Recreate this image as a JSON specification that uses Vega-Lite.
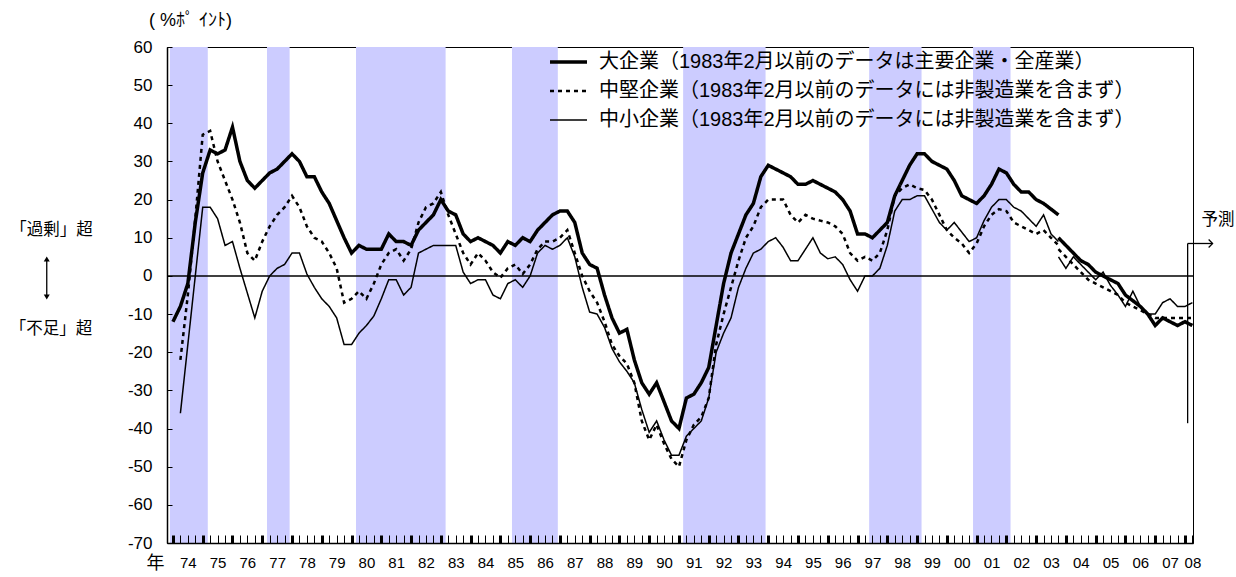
{
  "$schema": "https://vega.github.io/schema/vega-lite/v6.json",
  "width": 1026,
  "height": 496,
  "autosize": {"type": "none"},
  "padding": {"left": 167, "top": 47, "right": 43, "bottom": 34},
  "background": "white",
  "config": {
    "view": {"stroke": "#000000", "strokeWidth": 1},
    "font": "Liberation Sans, Noto Sans CJK JP, sans-serif",
    "axis": {"grid": false, "domainColor": "#000000", "tickColor": "#000000", "labelColor": "#000000", "titleColor": "#000000", "labelFont": "Liberation Sans, Noto Sans CJK JP, sans-serif", "titleFont": "Liberation Sans, Noto Sans CJK JP, sans-serif", "titleFontWeight": "normal"}
  },
  "datasets": {
    "bands": [
      {"t": 1973.9, "t2": 1975.17, "v": 60, "v2": -70},
      {"t": 1977.16, "t2": 1977.92, "v": 60, "v2": -70},
      {"t": 1980.15, "t2": 1983.16, "v": 60, "v2": -70},
      {"t": 1985.39, "t2": 1986.93, "v": 60, "v2": -70},
      {"t": 1991.14, "t2": 1993.91, "v": 60, "v2": -70},
      {"t": 1997.39, "t2": 1999.15, "v": 60, "v2": -70},
      {"t": 2000.88, "t2": 2002.14, "v": 60, "v2": -70}
    ],
    "zero": [
      {"t": 1973.8, "t2": 2008.27, "v": 0}
    ],
    "tankan": [
      {"t":1974,"g":"a","L":-12,"M":null,"S":null},
      {"t":1974.25,"g":"a","L":-8,"M":-22,"S":-36},
      {"t":1974.5,"g":"a","L":-2,"M":-5,"S":-18},
      {"t":1974.75,"g":"a","L":14,"M":15,"S":0},
      {"t":1975,"g":"a","L":27,"M":37,"S":18},
      {"t":1975.25,"g":"a","L":33,"M":38,"S":18},
      {"t":1975.5,"g":"a","L":32,"M":30,"S":15},
      {"t":1975.75,"g":"a","L":33,"M":25,"S":8},
      {"t":1976,"g":"a","L":39,"M":20,"S":9},
      {"t":1976.25,"g":"a","L":30,"M":14,"S":2},
      {"t":1976.5,"g":"a","L":25,"M":6,"S":-4.5},
      {"t":1976.75,"g":"a","L":23,"M":4,"S":-11},
      {"t":1977,"g":"a","L":25,"M":9,"S":-4},
      {"t":1977.25,"g":"a","L":27,"M":13,"S":0},
      {"t":1977.5,"g":"a","L":28,"M":16,"S":2},
      {"t":1977.75,"g":"a","L":30,"M":18,"S":3},
      {"t":1978,"g":"a","L":32,"M":21,"S":6},
      {"t":1978.25,"g":"a","L":30,"M":18,"S":6},
      {"t":1978.5,"g":"a","L":26,"M":13,"S":0.5},
      {"t":1978.75,"g":"a","L":26,"M":10,"S":-3},
      {"t":1979,"g":"a","L":22,"M":9,"S":-6},
      {"t":1979.25,"g":"a","L":19,"M":6,"S":-8},
      {"t":1979.5,"g":"a","L":14.5,"M":2,"S":-11},
      {"t":1979.75,"g":"a","L":10,"M":-7,"S":-18},
      {"t":1980,"g":"a","L":6,"M":-6,"S":-18},
      {"t":1980.25,"g":"a","L":8,"M":-4,"S":-15},
      {"t":1980.5,"g":"a","L":7,"M":-6,"S":-13},
      {"t":1980.75,"g":"a","L":7,"M":-2,"S":-10.5},
      {"t":1981,"g":"a","L":7,"M":3,"S":-6},
      {"t":1981.25,"g":"a","L":11,"M":6,"S":-1},
      {"t":1981.5,"g":"a","L":9,"M":7,"S":-1},
      {"t":1981.75,"g":"a","L":9,"M":4,"S":-5},
      {"t":1982,"g":"a","L":8,"M":7,"S":-3},
      {"t":1982.25,"g":"a","L":12,"M":14,"S":6},
      {"t":1982.5,"g":"a","L":14,"M":18,"S":7},
      {"t":1982.75,"g":"a","L":16,"M":19,"S":8},
      {"t":1983,"g":"a","L":20,"M":22,"S":8},
      {"t":1983.25,"g":"a","L":17,"M":16,"S":8},
      {"t":1983.5,"g":"a","L":16,"M":11,"S":8},
      {"t":1983.75,"g":"a","L":11,"M":6,"S":1},
      {"t":1984,"g":"a","L":9,"M":3,"S":-2},
      {"t":1984.25,"g":"a","L":10,"M":6,"S":-1},
      {"t":1984.5,"g":"a","L":9,"M":4,"S":-1},
      {"t":1984.75,"g":"a","L":8,"M":1,"S":-5},
      {"t":1985,"g":"a","L":6,"M":-0.5,"S":-6},
      {"t":1985.25,"g":"a","L":9,"M":2,"S":-2},
      {"t":1985.5,"g":"a","L":8,"M":3,"S":-1},
      {"t":1985.75,"g":"a","L":10,"M":0.5,"S":-3},
      {"t":1986,"g":"a","L":9,"M":3,"S":0},
      {"t":1986.25,"g":"a","L":12,"M":7,"S":6},
      {"t":1986.5,"g":"a","L":14,"M":9,"S":8},
      {"t":1986.75,"g":"a","L":16,"M":9,"S":7},
      {"t":1987,"g":"a","L":17,"M":10,"S":8},
      {"t":1987.25,"g":"a","L":17,"M":12,"S":10},
      {"t":1987.5,"g":"a","L":14,"M":6,"S":5},
      {"t":1987.75,"g":"a","L":6,"M":0,"S":-3},
      {"t":1988,"g":"a","L":3,"M":-4,"S":-9.5},
      {"t":1988.25,"g":"a","L":2,"M":-7,"S":-10},
      {"t":1988.5,"g":"a","L":-5,"M":-12,"S":-13.5},
      {"t":1988.75,"g":"a","L":-11,"M":-18,"S":-19},
      {"t":1989,"g":"a","L":-15,"M":-21,"S":-22.5},
      {"t":1989.25,"g":"a","L":-14,"M":-23,"S":-25},
      {"t":1989.5,"g":"a","L":-22,"M":-28,"S":-28},
      {"t":1989.75,"g":"a","L":-28,"M":-38,"S":-35},
      {"t":1990,"g":"a","L":-31,"M":-43,"S":-41},
      {"t":1990.25,"g":"a","L":-28,"M":-39,"S":-38},
      {"t":1990.5,"g":"a","L":-33,"M":-44,"S":-43},
      {"t":1990.75,"g":"a","L":-38,"M":-48,"S":-47},
      {"t":1991,"g":"a","L":-40,"M":-50,"S":-47},
      {"t":1991.25,"g":"a","L":-32,"M":-43,"S":-42},
      {"t":1991.5,"g":"a","L":-31,"M":-39,"S":-40},
      {"t":1991.75,"g":"a","L":-28,"M":-37,"S":-38},
      {"t":1992,"g":"a","L":-24,"M":-32,"S":-32},
      {"t":1992.25,"g":"a","L":-13,"M":-18,"S":-20},
      {"t":1992.5,"g":"a","L":-2,"M":-10,"S":-15},
      {"t":1992.75,"g":"a","L":6,"M":-3,"S":-11},
      {"t":1993,"g":"a","L":11,"M":4,"S":-3},
      {"t":1993.25,"g":"a","L":16,"M":10,"S":2},
      {"t":1993.5,"g":"a","L":19,"M":13,"S":6},
      {"t":1993.75,"g":"a","L":26,"M":18,"S":7},
      {"t":1994,"g":"a","L":29,"M":20,"S":9},
      {"t":1994.25,"g":"a","L":28,"M":20,"S":10},
      {"t":1994.5,"g":"a","L":27,"M":20,"S":7.5},
      {"t":1994.75,"g":"a","L":26,"M":16,"S":4},
      {"t":1995,"g":"a","L":24,"M":14,"S":4},
      {"t":1995.25,"g":"a","L":24,"M":16,"S":7},
      {"t":1995.5,"g":"a","L":25,"M":15,"S":10},
      {"t":1995.75,"g":"a","L":24,"M":14.5,"S":6},
      {"t":1996,"g":"a","L":23,"M":14,"S":4.5},
      {"t":1996.25,"g":"a","L":22,"M":13,"S":5},
      {"t":1996.5,"g":"a","L":20,"M":11,"S":3},
      {"t":1996.75,"g":"a","L":17,"M":6,"S":-1},
      {"t":1997,"g":"a","L":11,"M":4,"S":-4},
      {"t":1997.25,"g":"a","L":11,"M":5,"S":0},
      {"t":1997.5,"g":"a","L":10,"M":4,"S":0},
      {"t":1997.75,"g":"a","L":12,"M":6,"S":2},
      {"t":1998,"g":"a","L":14,"M":12,"S":8},
      {"t":1998.25,"g":"a","L":21,"M":21,"S":17},
      {"t":1998.5,"g":"a","L":25,"M":23,"S":20},
      {"t":1998.75,"g":"a","L":29,"M":24,"S":20},
      {"t":1999,"g":"a","L":32,"M":23,"S":21},
      {"t":1999.25,"g":"a","L":32,"M":22.5,"S":21},
      {"t":1999.5,"g":"a","L":30,"M":20,"S":17.5},
      {"t":1999.75,"g":"a","L":29,"M":16,"S":14},
      {"t":2000,"g":"a","L":28,"M":12,"S":12},
      {"t":2000.25,"g":"a","L":25,"M":10,"S":14},
      {"t":2000.5,"g":"a","L":21,"M":8.5,"S":11.5},
      {"t":2000.75,"g":"a","L":20,"M":6,"S":9},
      {"t":2001,"g":"a","L":19,"M":8.5,"S":10},
      {"t":2001.25,"g":"a","L":21,"M":13,"S":14.5},
      {"t":2001.5,"g":"a","L":24,"M":16,"S":18},
      {"t":2001.75,"g":"a","L":28,"M":17.5,"S":20},
      {"t":2002,"g":"a","L":27,"M":17,"S":20},
      {"t":2002.25,"g":"a","L":24,"M":14,"S":18},
      {"t":2002.5,"g":"a","L":22,"M":13,"S":17},
      {"t":2002.75,"g":"a","L":22,"M":12,"S":15},
      {"t":2003,"g":"a","L":20,"M":11,"S":13},
      {"t":2003.25,"g":"a","L":19,"M":12,"S":16},
      {"t":2003.5,"g":"a","L":17.5,"M":10,"S":11},
      {"t":2003.75,"g":"a","L":16,"M":8,"S":9},
      {"t":2003.75,"g":"b","L":10,"M":7,"S":5},
      {"t":2004,"g":"b","L":8,"M":5,"S":2},
      {"t":2004.25,"g":"b","L":6,"M":3,"S":5},
      {"t":2004.5,"g":"b","L":4,"M":1,"S":3},
      {"t":2004.75,"g":"b","L":3,"M":-1,"S":1},
      {"t":2005,"g":"b","L":1,"M":-2,"S":-1},
      {"t":2005.25,"g":"b","L":0,"M":-3,"S":1},
      {"t":2005.5,"g":"b","L":-1,"M":-4,"S":-2.5},
      {"t":2005.75,"g":"b","L":-2,"M":-5,"S":-5},
      {"t":2006,"g":"b","L":-5,"M":-7,"S":-8},
      {"t":2006.25,"g":"b","L":-6.5,"M":-8,"S":-4},
      {"t":2006.5,"g":"b","L":-8,"M":-9,"S":-8},
      {"t":2006.75,"g":"b","L":-10,"M":-10,"S":-10},
      {"t":2007,"g":"b","L":-13,"M":-11,"S":-10},
      {"t":2007.25,"g":"b","L":-11,"M":-11,"S":-7},
      {"t":2007.5,"g":"b","L":-12,"M":-11,"S":-6},
      {"t":2007.75,"g":"b","L":-13,"M":-11,"S":-8},
      {"t":2008,"g":"b","L":-12,"M":-11,"S":-8},
      {"t":2008.25,"g":"b","L":-13,"M":-11,"S":-7}
    ],
    "notes": [
      {"t": 1969.92, "v": 12, "text": "「過剰」超"},
      {"t": 1969.9, "v": -13.9, "text": "「不足」超"},
      {"t": 2009.11, "v": 14.65, "text": "予測"}
    ],
    "arrowLines": [
      {"t": 1969.76, "v": 4.43, "t2": 1969.76, "v2": -5.53},
      {"t": 2008.09, "v": -38.6, "t2": 2008.09, "v2": 8.5},
      {"t": 2008.09, "v": 8.5, "t2": 2008.93, "v2": 8.5}
    ],
    "triangles": [
      {"t": 1969.76, "v": 4.43, "dir": "up"},
      {"t": 1969.76, "v": -5.53, "dir": "down"}
    ],
    "chevrons": [
      {"t": 2008.93, "v": 8.5}
    ]
  },
  "encoding": {
    "x": {
      "field": "t", "type": "quantitative", "title": "年",
      "scale": {"domain": [1973.8, 2008.27], "nice": false, "zero": false},
      "axis": {
        "values": [1974,1974.25,1974.5,1974.75,1975,1975.25,1975.5,1975.75,1976,1976.25,1976.5,1976.75,1977,1977.25,1977.5,1977.75,1978,1978.25,1978.5,1978.75,1979,1979.25,1979.5,1979.75,1980,1980.25,1980.5,1980.75,1981,1981.25,1981.5,1981.75,1982,1982.25,1982.5,1982.75,1983,1983.25,1983.5,1983.75,1984,1984.25,1984.5,1984.75,1985,1985.25,1985.5,1985.75,1986,1986.25,1986.5,1986.75,1987,1987.25,1987.5,1987.75,1988,1988.25,1988.5,1988.75,1989,1989.25,1989.5,1989.75,1990,1990.25,1990.5,1990.75,1991,1991.25,1991.5,1991.75,1992,1992.25,1992.5,1992.75,1993,1993.25,1993.5,1993.75,1994,1994.25,1994.5,1994.75,1995,1995.25,1995.5,1995.75,1996,1996.25,1996.5,1996.75,1997,1997.25,1997.5,1997.75,1998,1998.25,1998.5,1998.75,1999,1999.25,1999.5,1999.75,2000,2000.25,2000.5,2000.75,2001,2001.25,2001.5,2001.75,2002,2002.25,2002.5,2002.75,2003,2003.25,2003.5,2003.75,2004,2004.25,2004.5,2004.75,2005,2005.25,2005.5,2005.75,2006,2006.25,2006.5,2006.75,2007,2007.25,2007.5,2007.75,2008,2008.25],
        "labelExpr": "datum.value % 1 === 0.5 ? slice(toString(floor(datum.value)), 2) : (datum.value === 2008.25 ? '08' : '')",
        "labelOverlap": false,
        "labelBound": false,
        "labelFlush": false,
        "labelFontSize": 15,
        "labelPadding": 20,
        "tickSize": -8,
        "tickWidth": {"condition": {"test": "datum.value % 1 === 0", "value": 3}, "value": 1},
        "domainWidth": 1.5,
        "zindex": 1,
        "titleFontSize": 18,
        "titleX": -12,
        "titleY": 20,
        "titleAlign": "center",
        "titleBaseline": "middle",
        "titleAngle": 0
      }
    },
    "y": {
      "field": "v", "type": "quantitative", "title": "( %ﾎﾟ ｲﾝﾄ)",
      "scale": {"domain": [-70, 60], "nice": false, "zero": false},
      "axis": {
        "values": [-70, -60, -50, -40, -30, -20, -10, 0, 10, 20, 30, 40, 50, 60],
        "labelExpr": "toString(datum.value)",
        "labelOverlap": false,
        "labelFontSize": 17,
        "labelPadding": 20,
        "tickSize": -5,
        "domainWidth": 1.5,
        "zindex": 1,
        "titleFontSize": 18,
        "titleAngle": 0,
        "titleX": 23,
        "titleY": -27,
        "titleAlign": "center",
        "titleBaseline": "middle"
      }
    }
  },
  "layer": [
    {
      "data": {"name": "bands"},
      "mark": {"type": "rect", "color": "#CCCCFF", "opacity": 1},
      "encoding": {
        "x2": {"field": "t2"},
        "y2": {"field": "v2"}
      }
    },
    {
      "data": {"name": "zero"},
      "mark": {"type": "rule", "color": "#000000", "strokeWidth": 1.5},
      "encoding": {
        "x2": {"field": "t2"}
      }
    },
    {
      "data": {"name": "tankan"},
      "transform": [{"fold": ["L", "M", "S"], "as": ["k", "v"]}],
      "mark": {"type": "line", "color": "#000000", "clip": true},
      "encoding": {
        "detail": {"field": "g"},
        "strokeDash": {
          "field": "k", "type": "ordinal",
          "scale": {"domain": ["L", "M", "S"], "range": [[1, 0], [4, 4], [1, 0]]},
          "legend": {"orient": "none", "legendX": 381, "legendY": 1, "title": null, "symbolType": "stroke", "symbolSize": 1369, "symbolStrokeColor": "#000000", "labelFontSize": 20, "labelFont": "Liberation Sans, Noto Sans CJK JP, sans-serif", "labelColor": "#000000", "labelOffset": 10, "labelLimit": 800, "clipHeight": 28, "rowPadding": 1,
            "labelExpr": "datum.label === 'L' ? '大企業（1983年2月以前のデータは主要企業・全産業）' : datum.label === 'M' ? '中堅企業（1983年2月以前のデータには非製造業を含まず）' : '中小企業（1983年2月以前のデータには非製造業を含まず）'"}
        },
        "strokeWidth": {
          "field": "k", "type": "ordinal",
          "scale": {"domain": ["L", "M", "S"], "range": [3.5, 1.5, 1.3]},
          "legend": {"orient": "none", "legendX": 381, "legendY": 1, "title": null, "symbolType": "stroke", "symbolSize": 1369, "symbolStrokeColor": "#000000", "labelFontSize": 20, "labelFont": "Liberation Sans, Noto Sans CJK JP, sans-serif", "labelColor": "#000000", "labelOffset": 10, "labelLimit": 800, "clipHeight": 28, "rowPadding": 1,
            "labelExpr": "datum.label === 'L' ? '大企業（1983年2月以前のデータは主要企業・全産業）' : datum.label === 'M' ? '中堅企業（1983年2月以前のデータには非製造業を含まず）' : '中小企業（1983年2月以前のデータには非製造業を含まず）'"}
        }
      }
    },
    {
      "data": {"name": "arrowLines"},
      "mark": {"type": "rule", "color": "#000000", "strokeWidth": 1.3, "clip": false},
      "encoding": {
        "x2": {"field": "t2"},
        "y2": {"field": "v2"}
      }
    },
    {
      "data": {"name": "triangles"},
      "mark": {"type": "point", "filled": true, "color": "#000000", "size": 36, "opacity": 1, "clip": false},
      "encoding": {
        "shape": {"field": "dir", "type": "nominal", "scale": {"domain": ["up", "down"], "range": ["triangle-up", "triangle-down"]}, "legend": null}
      }
    },
    {
      "data": {"name": "chevrons"},
      "mark": {"type": "point", "filled": false, "color": "#000000", "strokeWidth": 1.2, "size": 64, "opacity": 1, "shape": "M-1,-1L0,0L-1,1", "clip": false}
    },
    {
      "data": {"name": "notes"},
      "mark": {"type": "text", "color": "#000000", "fontSize": 16.5, "font": "Liberation Sans, Noto Sans CJK JP, sans-serif", "align": "center", "baseline": "middle", "clip": false},
      "encoding": {
        "text": {"field": "text"}
      }
    }
  ]
}
